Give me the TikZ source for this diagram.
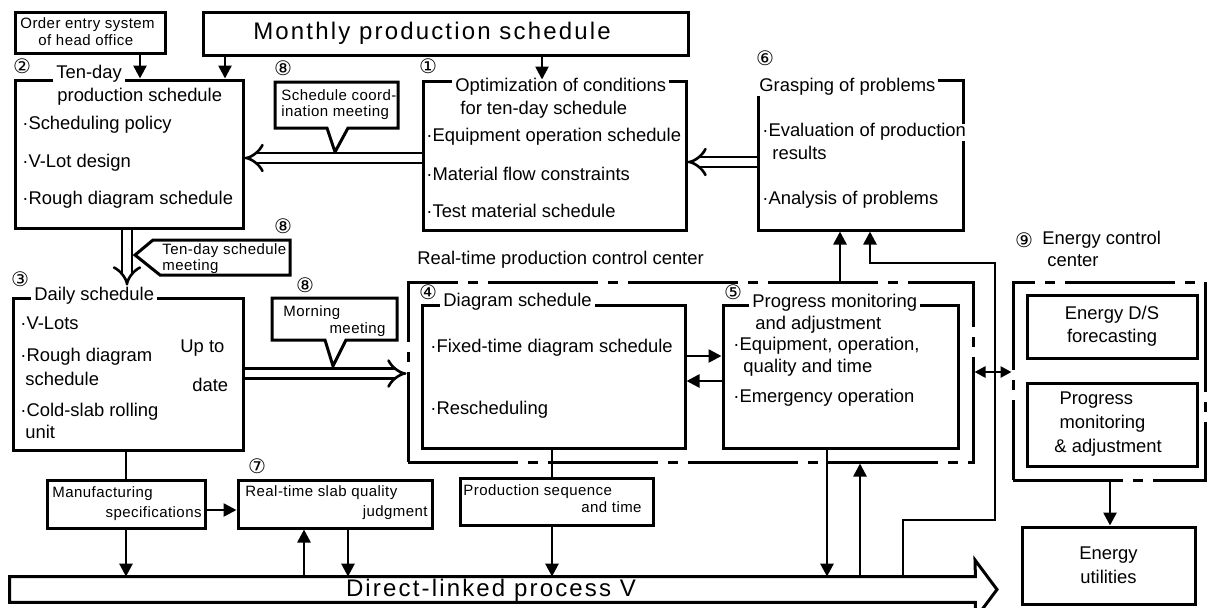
\documentclass[tikz,border=0pt]{standalone}
\usepackage{fontspec}
\setmainfont{Liberation Sans}
\newfontfamily\numfont{DejaVu Sans}
\newfontfamily\widefont{Liberation Sans}[LetterSpace=9]
\newfontfamily\smfont{Liberation Sans}[LetterSpace=3]
\usetikzlibrary{arrows.meta,fit,calc}
\begin{document}
\begin{tikzpicture}[x=0.5pt,y=-0.5pt,
  bx/.style={draw, line width=1.5pt, fill=white, inner sep=0pt},
  dd/.style={draw, line width=1.5pt, inner sep=0pt, dash pattern=on 55pt off 5pt on 5pt off 5pt},
  ln/.style={line width=1.3pt},
  arr/.style={line width=1.3pt, -{Triangle[length=6.5pt,width=6.5pt]}},
  dbl/.style={double, double distance=3.6pt, line width=1.3pt, -{Implies[scale=1.35]}},
  call/.style={line width=1.5pt, fill=white, line join=miter},
  T/.style={inner sep=0pt, text height=6.6pt, text depth=1.9pt, font=\fontsize{9.2}{11}\selectfont},
  tl/.style={T, anchor=west},
  ttl/.style={T, anchor=west, fill=white, inner xsep=1.5pt},
  S/.style={inner sep=0pt, text height=5.2pt, text depth=1.5pt, font=\smfont\fontsize{7.5}{9}\selectfont},
  sl/.style={S, anchor=west},
  sr/.style={S, anchor=east},
  num/.style={inner sep=0pt, font=\numfont\fontsize{10}{11}\selectfont},
]
\useasboundingbox (0,0) rectangle (1209,607);

% x / y reference coordinates
\coordinate (xOE) at (140,0);
\coordinate (xM1) at (225,0);
\coordinate (xM2) at (542,0);
\coordinate (xD)  at (127,0);
\coordinate (xMf) at (126,0);
\coordinate (xU)  at (304,0);
\coordinate (xDn) at (348,0);
\coordinate (xP)  at (552,0);
\coordinate (xB5) at (827,0);
\coordinate (xUp) at (860,0);
\coordinate (xG1) at (840,0);
\coordinate (xG2) at (870,0);
\coordinate (xR)  at (903,0);
\coordinate (xE)  at (1110,0);
\coordinate (yL)  at (0,158);
\coordinate (yR)  at (0,162);
\coordinate (yM)  at (0,373.5);
\coordinate (y1)  at (0,356);
\coordinate (y2)  at (0,381);
\coordinate (yEn) at (0,372);
\coordinate (yMf) at (0,510);
\coordinate (k1) at (903,520);
\coordinate (k2) at (995,520);
\coordinate (k3) at (995,263);
\coordinate (k4) at (870,263);

% dash-dot centres
\node[dd, fit={(408,282) (973,462)}] (rt) {};
\node[dd, fit={(1013,282) (1205,480)}] (ec) {};

% callouts
\draw[call] (275,82) -- (398,82) -- (398,128) -- (348,128) -- (335,152) -- (327,128) -- (275,128) -- cycle;
\draw[call] (290,240) -- (153,240) -- (135,255) -- (160,275) -- (290,275) -- cycle;
\draw[call] (272,298) -- (397,298) -- (397,340) -- (346,340) -- (333,366) -- (325,340) -- (272,340) -- cycle;

% boxes
\node[bx, fit={(15,12) (165,53)}] (oe) {};
\node[bx, fit={(203,12) (688,55)}] (mon) {};
\node[bx, fit={(15,80) (243,228)}] (b2) {};
\node[bx, fit={(423,81) (686,230)}] (b1) {};
\node[bx, fit={(758,80) (963,230)}] (b6) {};
\node[bx, fit={(13,298) (243,450)}] (b3) {};
\node[bx, fit={(422,305) (685,448)}] (b4) {};
\node[bx, fit={(723,305) (958,448)}] (b5) {};
\node[bx, fit={(1027,295) (1197,358)}] (e1) {};
\node[bx, fit={(1027,383) (1197,466)}] (e2) {};
\node[bx, fit={(1022,527) (1195,604)}] (eu) {};
\node[bx, fit={(47,480) (205,528)}] (mf) {};
\node[bx, fit={(238,480) (432,528)}] (sq) {};
\node[bx, fit={(460,478) (653,525)}] (ps) {};

% process arrow
\node[inner sep=0pt, fit={(10,577) (975,602)}] (proc) {};
\draw[line width=1.5pt, fill=white, line join=miter] (proc.north west) -- (proc.north east) -- (975,560) -- (997,589.5) -- (975,619) -- (proc.south east) -- (proc.south west) -- cycle;
\node[inner sep=0pt, font=\widefont\fontsize{12}{14}\selectfont] (proct) at (491,590) {Direct-linked process V};

% connectors
\draw[arr] (oe.south -| xOE) -- (b2.north -| xOE);
\draw[arr] (mon.south -| xM1) -- (b2.north -| xM1);
\draw[arr] (mon.south -| xM2) -- (b1.north -| xM2);
\draw[dbl] (b1.west |- yL) -- (b2.east |- yL);
\draw[dbl] (b6.west |- yR) -- (b1.east |- yR);
\draw[dbl] (b2.south -| xD) -- ($(b3.north -| xD)+(0,-11)$);
\draw[dbl] (b3.east |- yM) -- (rt.west |- yM);
\draw[arr] (b4.east |- y1) -- (b5.west |- y1);
\draw[arr] (b5.west |- y2) -- (b4.east |- y2);
\draw[arr] (rt.north -| xG1) -- (b6.south -| xG1);
\draw[arr] (proc.north -| xR) -- (k1) -- (k2) -- (k3) -- (k4) -- (b6.south -| xG2);
\draw[ln, {Triangle[length=5.5pt,width=5.5pt]}-{Triangle[length=5.5pt,width=5.5pt]}] (rt.east |- yEn) -- (ec.west |- yEn);
\draw[arr] (ec.south -| xE) -- (eu.north -| xE);
\draw[ln] (b3.south -| xMf) -- (mf.north -| xMf);
\draw[arr] (mf.south -| xMf) -- (proc.north -| xMf);
\draw[arr] (mf.east |- yMf) -- (sq.west |- yMf);
\draw[arr] (proc.north -| xU) -- (sq.south -| xU);
\draw[arr] (sq.south -| xDn) -- (proc.north -| xDn);
\draw[ln] (b4.south -| xP) -- (ps.north -| xP);
\draw[arr] (ps.south -| xP) -- (proc.north -| xP);
\draw[arr] (b5.south -| xB5) -- (proc.north -| xB5);
\draw[arr] (proc.north -| xUp) -- (rt.south -| xUp);

% circled numbers
\node[num] (n2) at (22,66) {②};
\node[num] (n1) at (428,66) {①};
\node[num] (n6) at (765,58) {⑥};
\node[num] (n8a) at (283,68) {⑧};
\node[num] (n8b) at (283,226) {⑧};
\node[num] (n3) at (20,279) {③};
\node[num] (n8c) at (305,285) {⑧};
\node[num] (n4) at (428,292) {④};
\node[num] (n5) at (733,292) {⑤};
\node[num] (n7) at (257,466) {⑦};
\node[num] (n9) at (1024,240) {⑨};

% texts
\node[sl] (t01) at (20,25) {Order entry system};
\node[sl] (t02) at (38,42) {of head office};
\node[inner sep=0pt, font=\widefont\fontsize{12}{14}\selectfont] (t03) at (432,33) {Monthly production schedule};

\node[ttl] (t04) at (53,74) {Ten-day};
\node[tl] (t05) at (57,97) {production schedule};
\node[tl] (t06) at (22,125) {·Scheduling policy};
\node[tl] (t07) at (22,163) {·V-Lot design};
\node[tl] (t08) at (22,200) {·Rough diagram schedule};

\node[sl] (t09) at (281,97) {Schedule coord-};
\node[sl] (t10) at (281,113) {ination meeting};

\node[ttl] (t11) at (452,87) {Optimization of conditions};
\node[tl] (t12) at (460,110) {for ten-day schedule};
\node[tl] (t13) at (426,137) {·Equipment operation schedule};
\node[tl] (t14) at (426,176) {·Material flow constraints};
\node[tl] (t15) at (426,213) {·Test material schedule};

\node[ttl] (t16) at (756,87) {Grasping of problems};
\node[tl, fill=white] (t17) at (762,132) {·Evaluation of production};
\node[tl] (t18) at (772,155) {results};
\node[tl] (t19) at (762,200) {·Analysis of problems};

\node[sl] (t20) at (162,251) {Ten-day schedule};
\node[sl] (t21) at (162,267) {meeting};

\node[ttl] (t22) at (31,296) {Daily schedule};
\node[tl] (t23) at (20,325) {·V-Lots};
\node[tl] (t24) at (20,357) {·Rough diagram};
\node[tl] (t25) at (25,381) {schedule};
\node[tl] (t26) at (20,412) {·Cold-slab rolling};
\node[tl] (t27) at (25,434) {unit};
\node[tl] (t28) at (180,348) {Up to};
\node[tl] (t29) at (192,387) {date};

\node[sl] (t30) at (283,313) {Morning};
\node[sr] (t31) at (386,330) {meeting};

\node[tl] (t32) at (417,260) {Real-time production control center};

\node[ttl] (t33) at (440,302) {Diagram schedule};
\node[tl] (t34) at (430,348) {·Fixed-time diagram schedule};
\node[tl] (t35) at (430,410) {·Rescheduling};

\node[ttl] (t36) at (749,303) {Progress monitoring};
\node[tl] (t37) at (755,325) {and adjustment};
\node[tl] (t38) at (733,346) {·Equipment, operation,};
\node[tl] (t39) at (743,368) {quality and time};
\node[tl] (t40) at (733,398) {·Emergency operation};

\node[tl] (t41) at (1042,240) {Energy control};
\node[tl] (t42) at (1047,262) {center};
\node[inner sep=0pt, align=center, font=\fontsize{9.2}{11.5}\selectfont] (t43) at (e1.center) {Energy D/S\\forecasting};
\node[inner sep=0pt, align=left, anchor=west, font=\fontsize{9.2}{11.8}\selectfont] (t44) at (1054,424) {\ Progress\\\ monitoring\\\& adjustment};
\node[inner sep=0pt, align=center, font=\fontsize{9.2}{12}\selectfont] (t45) at (eu.center) {Energy\\utilities};

\node[sl] (t46) at (52,494) {Manufacturing};
\node[sr] (t47) at (202,514) {specifications};
\node[sl] (t48) at (245,493) {Real-time slab quality};
\node[sr] (t49) at (428,513) {judgment};
\node[sl] (t50) at (463,492) {Production sequence};
\node[sr] (t51) at (642,509) {and time};
\end{tikzpicture}
\end{document}
